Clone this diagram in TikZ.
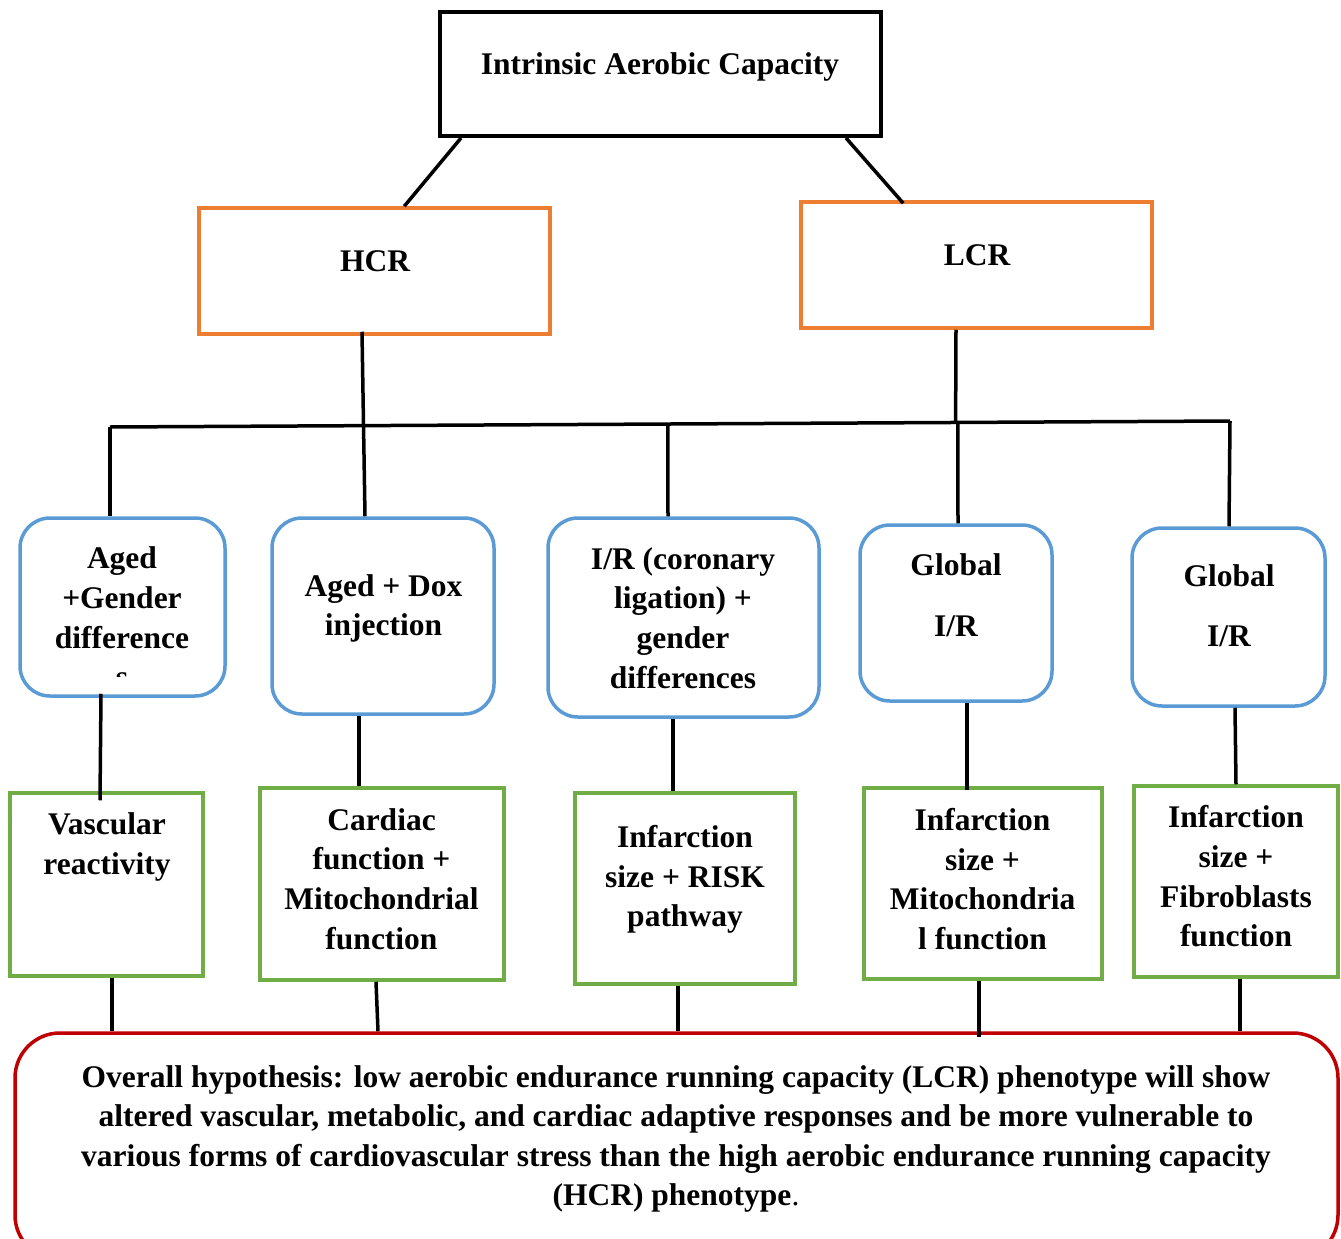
\documentclass[tikz,border=0pt]{standalone}
\usepackage{fontspec}
\setmainfont{Liberation Serif}
\usetikzlibrary{calc}
\definecolor{boxorange}{HTML}{ED7D31}
\definecolor{boxblue}{HTML}{5B9BD5}
\definecolor{boxgreen}{HTML}{70AD47}
\definecolor{boxred}{HTML}{C00000}
\tikzset{
  conn/.style={line width=3.5pt, black},
  topbox/.style={draw=black, line width=4pt, inner sep=0pt},
  hlbox/.style={draw=boxorange, line width=3.5pt, inner sep=0pt},
  modelbox/.style={draw=boxblue, line width=3.5pt, rounded corners=30pt, inner sep=0pt},
  outbox/.style={draw=boxgreen, line width=3.5pt, inner sep=0pt},
  hypbox/.style={draw=boxred, line width=3.5pt, rounded corners=45pt, inner sep=0pt},
  txt/.style={align=center, inner sep=0pt, font=\fontsize{31.5}{39.7}\selectfont\bfseries},
}
\begin{document}
\begin{tikzpicture}[x=1pt, y=-1pt]
\useasboundingbox (0,0) rectangle (1341,1239);
\fill[white] (0,0) rectangle (1341,1239);
\clip (0,0) rectangle (1341,1239);

% boxes
\node[topbox, minimum width=441pt, minimum height=124pt] (top) at (660.5,74) {};
\node[hlbox, minimum width=351pt, minimum height=126pt] (hcr) at (374.5,271) {};
\node[hlbox, minimum width=351pt, minimum height=126pt] (lcr) at (976.5,265) {};

\node[modelbox, minimum width=205pt, minimum height=178pt] (b1) at (122.5,607) {};
\node[modelbox, minimum width=222pt, minimum height=196pt] (b2) at (383,616) {};
\node[modelbox, minimum width=271pt, minimum height=199pt] (b3) at (683.5,617.5) {};
\node[modelbox, minimum width=192pt, minimum height=176pt] (b4) at (956,613) {};
\node[modelbox, minimum width=193pt, minimum height=178pt] (b5) at (1228.5,617) {};

\node[outbox, minimum width=193pt, minimum height=183pt] (g1) at (106.5,884.5) {};
\node[outbox, minimum width=244pt, minimum height=192pt] (g2) at (382,884) {};
\node[outbox, minimum width=220pt, minimum height=191pt] (g3) at (685,888.5) {};
\node[outbox, minimum width=238pt, minimum height=191pt] (g4) at (983,883.5) {};
\node[outbox, minimum width=204pt, minimum height=191pt] (g5) at (1236,881.5) {};

\node[hypbox, minimum width=1323pt, minimum height=227pt] (hyp) at (676.5,1146.5) {};

% small blue mark inside first green box
\draw[boxblue, line width=1pt] ([xshift=1pt,yshift=-34.5pt]g1.west) -- ([xshift=1pt,yshift=62.5pt]g1.west);

% texts
\node[txt] (t-top) at (660,67) {Intrinsic Aerobic Capacity};
\node[txt] (t-hcr) at (375,261) {HCR};
\node[txt] (t-lcr) at (977,255) {LCR};
\begin{scope}
\clip (20,518) rectangle (225,676);
\node[txt] (t-b1) at (122,617.5) {Aged\\+Gender\\difference\\s};
\end{scope}
\node[txt] (t-b2) at (383.5,608.5) {Aged + Dox\\injection};
\node[txt] (t-b3) at (683,618) {I/R (coronary\\ligation) +\\gender\\differences};
\node[txt] (t-b4) at (956,595.5) {Global\\[21pt]I/R};
\node[txt] (t-b5) at (1229,606) {Global\\[20pt]I/R};
\node[txt] (t-g1) at (107,847) {Vascular\\reactivity};
\node[txt] (t-g2) at (381.5,879) {Cardiac\\function +\\Mitochondrial\\function};
\node[txt] (t-g3) at (685,879.5) {Infarction\\size + RISK\\pathway};
\node[txt] (t-g4) at (982.5,879) {Infarction\\size +\\Mitochondria\\l function};
\node[txt] (t-g5) at (1236,876.5) {Infarction\\size +\\Fibroblasts\\function};
\node[txt, font=\fontsize{31.5}{39.3}\selectfont\bfseries] (t-hyp) at (676,1139) {Overall hypothesis: low aerobic endurance running capacity (LCR) phenotype will show\\altered vascular, metabolic, and cardiac adaptive responses and be more vulnerable to\\various forms of cardiovascular stress than the high aerobic endurance running capacity\\(HCR) phenotype\textmd{.}};

% connectors
\coordinate (barL) at (110,427);
\coordinate (barR) at (1230,421);
\draw[conn] ([xshift=23pt]top.south west) -- ([xshift=207pt]hcr.north west);
\draw[conn] ([xshift=408pt]top.south west) -- ([xshift=104pt,yshift=-3pt]lcr.north west);
\draw[conn] (barL) -- (barR);
\draw[conn] ([xshift=-12.5pt,yshift=4pt]hcr.south) -- ([xshift=-18pt]b2.north);
\draw[conn] ([xshift=-20.5pt]lcr.south) -- ($(barL)!0.755!(barR)$);
\draw[conn] (barL) -- ([xshift=-12.5pt]b1.north);
\draw[conn] ($(barL)!0.498!(barR)$) -- ([xshift=-15.5pt]b3.north);
\draw[conn] ($(barL)!0.757!(barR)$) -- ([xshift=2pt]b4.north);
\draw[conn] (barR) -- ([xshift=0.5pt]b5.north);

\draw[conn] ([xshift=-21.5pt,yshift=4pt]b1.south) -- ([xshift=-6.5pt,yshift=-9pt]g1.north);
\draw[conn] ([xshift=-24pt]b2.south) -- ([xshift=-23pt]g2.north);
\draw[conn] ([xshift=-10.5pt]b3.south) -- ([xshift=-12pt]g3.north);
\draw[conn] ([xshift=11pt]b4.south) -- ([xshift=-16pt,yshift=-4pt]g4.north);
\draw[conn] ([xshift=6.5pt]b5.south) -- ([xshift=0pt]g5.north);

\draw[conn] ([xshift=5.5pt]g1.south) -- ([xshift=-564.5pt]hyp.north);
\draw[conn] ([xshift=-6pt]g2.south) -- ([xshift=-298.5pt]hyp.north);
\draw[conn] ([xshift=-7pt]g3.south) -- ([xshift=1.5pt]hyp.north);
\draw[conn] ([xshift=-4pt]g4.south) -- ([xshift=302.5pt,yshift=-6pt]hyp.north);
\draw[conn] ([xshift=4pt]g5.south) -- ([xshift=563.5pt]hyp.north);
\end{tikzpicture}
\end{document}
